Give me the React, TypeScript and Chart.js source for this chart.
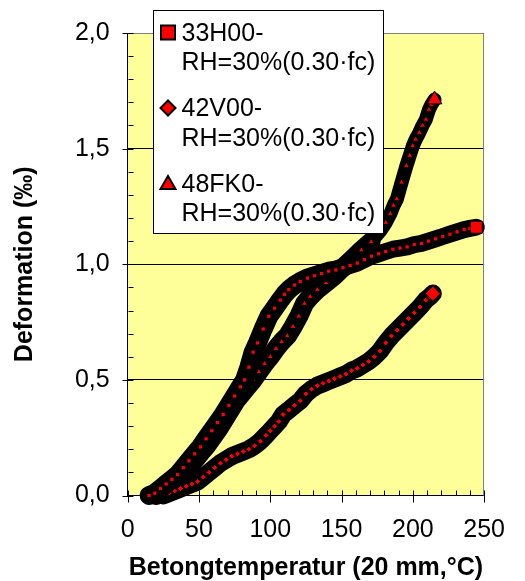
import React, { useEffect, useRef } from 'react';
import { Chart, registerables } from 'chart.js';

Chart.register(...registerables);

const FONT = '"Liberation Sans", Arial, Helvetica, sans-serif';

// ---- data ----
const seriesLines = [
  ['33H00-', 'RH=30%(0.30·fc)'],
  ['42V00-', 'RH=30%(0.30·fc)'],
  ['48FK0-', 'RH=30%(0.30·fc)'],
];

const sqT = [15, 19, 23, 27, 31, 35, 39, 43, 47, 51, 55, 59, 63, 67, 71, 75, 79, 82, 85, 88, 91, 95, 99, 103, 107, 110, 113, 117, 121, 126, 131, 136, 141, 146, 151, 156, 161, 166, 171, 176, 181, 186, 191, 196, 201, 206, 211, 216, 221, 226, 231, 236, 240, 244.5];
const sqD = [0, 0.01, 0.03, 0.05, 0.07, 0.09, 0.12, 0.15, 0.18, 0.21, 0.245, 0.28, 0.315, 0.35, 0.39, 0.43, 0.47, 0.5, 0.555, 0.62, 0.66, 0.72, 0.775, 0.81, 0.845, 0.87, 0.89, 0.91, 0.925, 0.94, 0.95, 0.96, 0.97, 0.975, 0.985, 0.995, 1.005, 1.02, 1.035, 1.045, 1.055, 1.065, 1.07, 1.075, 1.085, 1.09, 1.1, 1.11, 1.12, 1.13, 1.14, 1.15, 1.155, 1.16];

const diT = [25, 29, 33, 37, 41, 45, 49, 53, 57, 61, 65, 69, 73, 77, 81, 85, 89, 93, 97, 100, 103, 106, 109, 113, 117, 121, 125, 129, 133, 137, 141, 145, 149, 153, 157, 161, 165, 169, 173, 177, 181, 185, 189, 193, 197, 201, 205, 209, 212, 214];
const diD = [0, 0.01, 0.02, 0.03, 0.04, 0.05, 0.06, 0.08, 0.1, 0.12, 0.14, 0.155, 0.17, 0.18, 0.19, 0.2, 0.215, 0.235, 0.26, 0.28, 0.3, 0.32, 0.35, 0.37, 0.39, 0.41, 0.44, 0.46, 0.475, 0.485, 0.495, 0.505, 0.515, 0.525, 0.54, 0.55, 0.565, 0.58, 0.6, 0.625, 0.66, 0.69, 0.715, 0.74, 0.765, 0.79, 0.815, 0.845, 0.86, 0.873];

const trT = [20, 24, 28, 32, 36, 40, 44, 48, 52, 56, 60, 64, 68, 72, 76, 80, 84, 88, 92, 96, 100, 104, 108, 112, 116, 120, 124, 128, 133, 139, 145, 150.4, 157, 163.9, 170.7, 177.5, 181, 184.2, 186.5, 188.8, 192.1, 195.5, 197.8, 200, 202, 204.5, 206.8, 209.1, 211.3, 213, 215.2];
const trD = [0, 0.01, 0.03, 0.05, 0.075, 0.1, 0.13, 0.16, 0.19, 0.22, 0.255, 0.29, 0.33, 0.37, 0.41, 0.44, 0.47, 0.5, 0.535, 0.57, 0.6, 0.635, 0.665, 0.69, 0.73, 0.775, 0.83, 0.86, 0.89, 0.92, 0.95, 0.982, 1.02, 1.061, 1.097, 1.147, 1.18, 1.218, 1.254, 1.282, 1.354, 1.426, 1.47, 1.512, 1.54, 1.569, 1.6, 1.626, 1.669, 1.69, 1.712];

const xTickValues = [0, 50, 100, 150, 200, 250];
const xTickLabels = ['0', '50', '100', '150', '200', '250'];
const yTickValues = [0, 0.5, 1, 1.5, 2];
const yTickLabels = ['0,0', '0,5', '1,0', '1,5', '2,0'];
const yGridValues = [0.5, 1, 1.5];

const xTitle = 'Betongtemperatur (20 mm,°C)';
const yTitle = 'Deformation (‰)';

// ---- styling helpers ----
function makeDataset(
  label: string, T: number[], D: number[], style: string, midR: number, endR: number,
  width: number, thinFromX = Infinity, thinWidth = width,
) {
  return {
    label,
    data: T.map((t, i) => ({ x: t, y: D[i] })),
    showLine: true,
    borderColor: '#000000',
    borderWidth: width,
    borderJoinStyle: 'round',
    borderCapStyle: 'round',
    segment: {
      borderWidth: (c: any) => (c.p0.parsed.x >= thinFromX ? thinWidth : width),
    },
    tension: 0,
    pointStyle: style,
    pointBackgroundColor: '#FF0000',
    pointBorderColor: '#000000',
    pointBorderWidth: 1,
    pointRadius: (c: any) => (c.dataIndex === T.length - 1 ? endR : midR),
    clip: false,
  };
}

function drawLegendMarker(ctx: CanvasRenderingContext2D, style: string, x: number, y: number) {
  ctx.beginPath();
  if (style === 'rect') {
    ctx.rect(x - 7, y - 7, 14, 14);
  } else if (style === 'rectRot') {
    ctx.moveTo(x, y - 7.5);
    ctx.lineTo(x + 7.5, y);
    ctx.lineTo(x, y + 7.5);
    ctx.lineTo(x - 7.5, y);
    ctx.closePath();
  } else {
    ctx.moveTo(x, y - 7.5);
    ctx.lineTo(x + 7.5, y + 5.5);
    ctx.lineTo(x - 7.5, y + 5.5);
    ctx.closePath();
  }
  ctx.fillStyle = '#FF0000';
  ctx.fill();
  ctx.lineWidth = 2;
  ctx.strokeStyle = '#000000';
  ctx.stroke();
}

const bgPlugin = {
  id: 'plotBg',
  beforeDraw(chart: any) {
    const { ctx, chartArea } = chart;
    ctx.save();
    ctx.fillStyle = '#FFFFFF';
    ctx.fillRect(0, 0, chart.width, chart.height);
    ctx.fillStyle = '#FFFF99';
    ctx.fillRect(chartArea.left, chartArea.top, chartArea.right - chartArea.left, chartArea.bottom - chartArea.top);
    ctx.restore();
  },
};

const tickPlugin = {
  id: 'axisTicks',
  beforeDatasetsDraw(chart: any) {
    const { ctx, chartArea } = chart;
    const { left, top, right, bottom } = chartArea;
    const xs = chart.scales.x;
    const ys = chart.scales.y;
    ctx.save();
    ctx.lineWidth = 1;
    ctx.strokeStyle = '#808080';
    ctx.beginPath();
    const ty = Math.round(top) + 0.5;
    const rx = Math.round(right) - 0.5;
    ctx.moveTo(left, ty);
    ctx.lineTo(right, ty);
    ctx.moveTo(rx, top);
    ctx.lineTo(rx, bottom);
    ctx.stroke();

    ctx.strokeStyle = '#000000';
    ctx.beginPath();
    const by = Math.round(bottom) - 0.5;
    for (let v = xs.min; v <= xs.max + 1e-9; v += 10) {
      const px = Math.round(xs.getPixelForValue(v)) + 0.5;
      const major = Math.abs(v % 50) < 1e-9;
      ctx.moveTo(px, by - 5);
      ctx.lineTo(px, major ? by + 7 : by);
    }
    const lx = Math.round(left) + 0.5;
    for (let i = 0; i <= 20; i++) {
      const v = i / 10;
      const py = Math.round(ys.getPixelForValue(v)) + 0.5;
      const major = i % 5 === 0;
      ctx.moveTo(major ? lx - 6 : lx, py);
      ctx.lineTo(lx + 5, py);
    }
    ctx.stroke();
    ctx.restore();
  },
};

const legendPlugin = {
  id: 'boxLegend',
  afterDraw(chart: any) {
    const { ctx } = chart;
    ctx.save();
    ctx.fillStyle = '#FFFFFF';
    ctx.fillRect(153.5, 10.5, 230, 223);
    ctx.strokeStyle = '#000000';
    ctx.lineWidth = 1;
    ctx.strokeRect(153.5, 10.5, 230, 223);
    chart.data.datasets.forEach((ds: any, i: number) => {
      const base = 40.5 + i * 75.5;
      drawLegendMarker(ctx, ds.pointStyle, 168, base - 8);
      ctx.font = `25px ${FONT}`;
      ctx.fillStyle = '#000000';
      ctx.textAlign = 'left';
      ctx.textBaseline = 'alphabetic';
      seriesLines[i].forEach((t, j) => ctx.fillText(t, 181.5, base + j * 29.5));
    });
    ctx.restore();
  },
};

export default function App() {
  const ref = useRef<HTMLCanvasElement>(null);

  useEffect(() => {
    if (!ref.current) return;
    const datasets = [
      makeDataset(seriesLines[0].join(''), sqT, sqD, 'rect', 3, 8.5, 19, 150, 17),
      makeDataset(seriesLines[1].join(''), diT, diD, 'rectRot', 3, 7.5, 18),
      makeDataset(seriesLines[2].join(''), trT, trD, 'triangle', 3.5, 8.5, 19, 165, 14),
    ];
    const chart = new Chart(ref.current, {
      type: 'scatter',
      data: { datasets } as any,
      plugins: [bgPlugin, tickPlugin, legendPlugin],
      options: {
        responsive: false,
        animation: false,
        devicePixelRatio: 1,
        events: [],
        layout: { padding: { left: 0, top: 29.5, right: 28.3, bottom: 0 } },
        plugins: { legend: { display: false }, tooltip: { enabled: false } },
        scales: {
          x: {
            type: 'linear',
            min: 0,
            max: 250,
            afterFit: (s: any) => { s.height = 85.5; },
            afterBuildTicks: (s: any) => { s.ticks = xTickValues.map((v) => ({ value: v })); },
            ticks: {
              padding: 20,
              color: '#000000',
              font: { family: FONT, size: 25 },
              callback: (v: any) => xTickLabels[xTickValues.indexOf(Number(v))] ?? '',
            },
            grid: { display: false, drawTicks: false },
            border: { display: true, color: '#000000', width: 1 },
            title: {
              display: true,
              text: xTitle,
              color: '#000000',
              font: { family: FONT, size: 25, weight: 'bold', lineHeight: 1 },
              padding: { top: 0, bottom: 0 },
            },
          },
          y: {
            type: 'linear',
            min: 0,
            max: 2,
            afterFit: (s: any) => { s.width = 127.7; },
            afterBuildTicks: (s: any) => { s.ticks = yTickValues.map((v) => ({ value: v })); },
            ticks: {
              padding: 18,
              color: '#000000',
              font: { family: FONT, size: 25 },
              callback: (v: any) => yTickLabels[yTickValues.indexOf(Number(v))] ?? '',
            },
            grid: {
              drawTicks: false,
              lineWidth: 1,
              color: (c: any) => (c.tick && yGridValues.includes(c.tick.value) ? '#000000' : 'rgba(0,0,0,0)'),
            },
            border: { display: true, color: '#000000', width: 1 },
            title: {
              display: true,
              text: yTitle,
              color: '#000000',
              font: { family: FONT, size: 25, weight: 'bold', lineHeight: 1 },
              padding: { top: 13, bottom: 0 },
            },
          },
        },
      } as any,
    });
    return () => chart.destroy();
  }, []);

  return (
    <div style={{ position: 'absolute', left: 0, top: 0, width: 525, height: 581 }}>
      <canvas ref={ref} width={525} height={581} style={{ display: 'block' }} />
    </div>
  );
}
